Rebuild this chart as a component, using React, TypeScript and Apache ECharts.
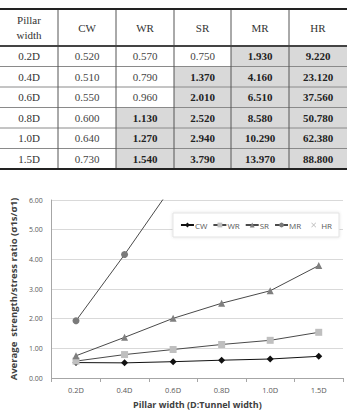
import React, { useEffect, useRef } from "react";
import * as echarts from "echarts";

const categories = ["0.2D", "0.4D", "0.6D", "0.8D", "1.0D", "1.5D"];
const seriesNames = ["CW", "WR", "SR", "MR", "HR"];
const cw = [0.52, 0.51, 0.55, 0.6, 0.64, 0.73];
const wr = [0.57, 0.79, 0.96, 1.13, 1.27, 1.54];
const sr = [0.75, 1.37, 2.01, 2.52, 2.94, 3.79];
const mr = [1.93, 4.16, 6.51, 8.58, 10.29, 13.97];
const hr = [9.22, 23.12, 37.56, 50.78, 62.38, 88.8];
const yTicks = [0, 1, 2, 3, 4, 5, 6];

const allSeries = [cw, wr, sr, mr, hr];

export default function App() {
  const ref = useRef<HTMLDivElement>(null);
  useEffect(() => {
    document.body.style.margin = "0";
    const chart = echarts.init(ref.current!, null, { renderer: "svg" });

    // table layout
    const colX = [0, 58, 116, 174, 231, 289, 347];
    const top = 9;
    const headH = 37;
    const rowH = 20.5;
    const bodyTop = top + headH;
    const bottom = bodyTop + rowH * categories.length;
    const serif = "'Liberation Serif', 'Times New Roman', serif";
    const g: any[] = [];
    categories.forEach((c, r) => {
      allSeries.forEach((s, ci) => {
        if (s[r] >= 1) {
          g.push({
            type: "rect",
            shape: { x: colX[ci + 1], y: bodyTop + r * rowH, width: colX[ci + 2] - colX[ci + 1], height: rowH },
            style: { fill: "#d9d9d9" },
            silent: true,
          });
        }
      });
    });
    for (let r = 1; r < categories.length; r++) {
      g.push({ type: "line", shape: { x1: 0, y1: bodyTop + r * rowH, x2: 347, y2: bodyTop + r * rowH }, style: { stroke: "#8a8a8a", lineWidth: 1 } });
    }
    for (let c = 1; c < colX.length - 1; c++) {
      g.push({ type: "line", shape: { x1: colX[c], y1: top, x2: colX[c], y2: bottom }, style: { stroke: "#555", lineWidth: 1 } });
    }
    g.push({ type: "line", shape: { x1: 0, y1: top, x2: 347, y2: top }, style: { stroke: "#222", lineWidth: 2 } });
    g.push({ type: "line", shape: { x1: 0, y1: bodyTop, x2: 347, y2: bodyTop }, style: { stroke: "#444", lineWidth: 2 } });
    g.push({ type: "line", shape: { x1: 0, y1: bottom, x2: 347, y2: bottom }, style: { stroke: "#222", lineWidth: 2 } });
    g.push({
      type: "text", x: colX[0] + (colX[1] - colX[0]) / 2, y: top + headH / 2,
      style: { text: "Pillar\nwidth", font: `11px ${serif}`, fill: "#333", align: "center", verticalAlign: "middle", lineHeight: 15 },
    });
    seriesNames.forEach((n, ci) => {
      g.push({
        type: "text", x: (colX[ci + 1] + colX[ci + 2]) / 2, y: top + headH / 2,
        style: { text: n, font: `11px ${serif}`, fill: "#333", align: "center", verticalAlign: "middle" },
      });
    });
    categories.forEach((c, r) => {
      const cy = bodyTop + r * rowH + rowH / 2;
      g.push({
        type: "text", x: (colX[0] + colX[1]) / 2, y: cy,
        style: { text: c, font: `11px ${serif}`, fill: "#333", align: "center", verticalAlign: "middle" },
      });
      allSeries.forEach((s, ci) => {
        const bold = s[r] >= 1;
        g.push({
          type: "text", x: (colX[ci + 1] + colX[ci + 2]) / 2, y: cy,
          style: { text: s[r].toFixed(3), font: `${bold ? "bold " : ""}11px ${serif}`, fill: bold ? "#222" : "#444", align: "center", verticalAlign: "middle" },
        });
      });
    });

    const lineColor = "#4a4a4a";
    const xSym = "path://M0,1L1,0L5,4L9,0L10,1L6,5L10,9L9,10L5,6L1,10L0,9L4,5Z";
    const styles = [
      { symbol: "diamond", size: 7, color: "#111", line: "#111" },
      { symbol: "rect", size: 7, color: "#bfbfbf", line: lineColor },
      { symbol: "triangle", size: 7, color: "#7f7f7f", line: lineColor },
      { symbol: "circle", size: 7, color: "#7a7a7a", line: lineColor },
      { symbol: xSym, size: 5, color: "#bbb", line: "transparent" },
    ];

    const sans = "'Open Sans', 'DejaVu Sans', sans-serif";
    chart.setOption({
      animation: false,
      graphic: g,
      grid: { left: 41, right: 4, top: 200, bottom: 30, containLabel: false },
      legend: {
        right: 8, top: 213,
        padding: [8, 7],
        itemGap: 5,
        itemWidth: 13, itemHeight: 6,
        backgroundColor: "#fff",
        borderColor: "#e3e3e3", borderWidth: 1,
        shadowColor: "rgba(0,0,0,0.12)", shadowBlur: 3,
        textStyle: { fontSize: 8, color: "#595959", fontFamily: sans, padding: [0, 0, 0, -4] },
        data: seriesNames,
      },
      xAxis: {
        type: "category",
        data: categories,
        boundaryGap: true,
        name: "Pillar width (D:Tunnel width)",
        nameLocation: "middle",
        nameGap: 22,
        nameTextStyle: { fontSize: 9, fontWeight: "bold", color: "#404040", fontFamily: sans },
        axisLine: { lineStyle: { color: "#a6a6a6" } },
        axisTick: { show: true, length: 4, lineStyle: { color: "#a6a6a6" } },
        axisLabel: { fontSize: 7.5, color: "#595959", fontFamily: sans, margin: 8 },
      },
      yAxis: {
        type: "value",
        min: 0, max: 6, interval: 1,
        name: "Average  strength/stress ratio (σ1s/σ1)",
        nameLocation: "middle",
        nameGap: 33,
        nameTextStyle: { fontSize: 9.5, fontWeight: "bold", color: "#404040", fontFamily: sans },
        axisLine: { show: true, lineStyle: { color: "#a6a6a6" } },
        axisTick: { show: false },
        splitLine: { lineStyle: { color: "#d9d9d9" } },
        axisLabel: { fontSize: 7, color: "#595959", fontFamily: sans, margin: 9, formatter: (v: number) => yTicks.includes(v) ? v.toFixed(2) : "" },
      },
      series: allSeries.map((d, i) => ({
        name: seriesNames[i],
        type: "line",
        data: d,
        clip: true,
        symbol: styles[i].symbol,
        symbolSize: styles[i].size,
        showAllSymbol: true,
        itemStyle: { color: styles[i].color },
        lineStyle: { color: styles[i].line, width: 1 },
      })),
    });
    return () => chart.dispose();
  }, []);
  return <div ref={ref} style={{ width: 347, height: 410 }} />;
}
